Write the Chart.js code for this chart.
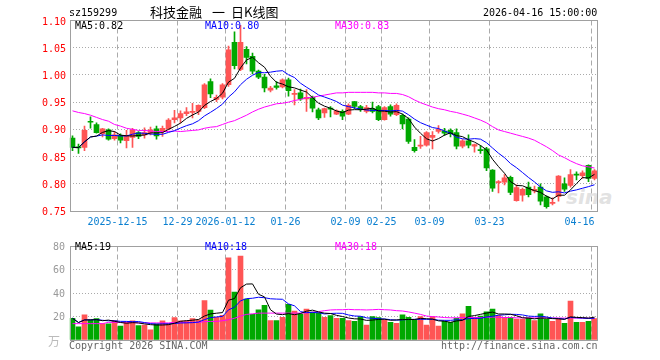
<!DOCTYPE html>
<html><head><meta charset="utf-8">
<script src="https://cdn.jsdelivr.net/npm/chart.js@4.4.1/dist/chart.umd.min.js"></script>
<style>
html,body{margin:0;padding:0;background:#fff;}
#wrap{position:relative;width:660px;height:360px;overflow:hidden;font-family:"DejaVu Sans Mono",monospace;font-size:10px;}
canvas{position:absolute;left:0;}
.t{position:absolute;white-space:pre;line-height:12px;height:12px;}
.cn{font-family:"Noto Sans CJK SC",sans-serif;font-size:13px;line-height:16px;}
</style></head><body>
<div id="wrap">
<div class="t" style="left:566px;top:186px;font:italic bold 20px 'DejaVu Sans',sans-serif;line-height:22px;height:22px;color:rgba(190,190,190,0.45)">sina</div>
<canvas id="pc" width="660" height="236" style="top:0"></canvas>
<canvas id="vc" width="660" height="124" style="top:236px"></canvas>
<div class="t" style="left:69px;top:7px;color:#000">sz159299</div>
<div class="t cn" style="left:150px;top:4px;color:#000">科技金融</div>
<div class="t cn" style="left:212px;top:4px;color:#000">一</div>
<div class="t cn" style="left:231px;top:4px;color:#000">日K线图</div>
<div class="t" style="left:483px;top:7px;color:#000">2026-04-16 15:00:00</div>
<div class="t" style="left:75px;top:20px;color:#000">MA5:0.82</div>
<div class="t" style="left:205px;top:20px;color:#0000ff">MA10:0.80</div>
<div class="t" style="left:335px;top:20px;color:#ff00ff">MA30:0.83</div>
<div class="t" style="left:75px;top:241px;color:#000">MA5:19</div>
<div class="t" style="left:205px;top:241px;color:#0000ff">MA10:18</div>
<div class="t" style="left:335px;top:241px;color:#ff00ff">MA30:18</div>
<div class="t cn" style="left:48px;top:333px;font-size:12px;color:#bbb">万</div>
<div class="t" style="left:69px;top:340px;color:#666">Copyright 2026 SINA.COM</div>
<div class="t" style="left:441px;top:340px;color:#666">http://finance.sina.com.cn</div>
</div>
<script>
const dates = ['2025-12-03','2025-12-04','2025-12-05','2025-12-08','2025-12-09','2025-12-10','2025-12-11','2025-12-12','2025-12-15','2025-12-16',
'2025-12-17','2025-12-18','2025-12-19','2025-12-22','2025-12-23','2025-12-24','2025-12-25','2025-12-26','2025-12-29','2025-12-30',
'2025-12-31','2026-01-05','2026-01-06','2026-01-07','2026-01-08','2026-01-09','2026-01-12','2026-01-13','2026-01-14','2026-01-15',
'2026-01-16','2026-01-19','2026-01-20','2026-01-21','2026-01-22','2026-01-23','2026-01-26','2026-01-27','2026-01-28','2026-01-29',
'2026-01-30','2026-02-02','2026-02-03','2026-02-04','2026-02-05','2026-02-06','2026-02-09','2026-02-10','2026-02-11','2026-02-12',
'2026-02-13','2026-02-24','2026-02-25','2026-02-26','2026-02-27','2026-03-02','2026-03-03','2026-03-04','2026-03-05','2026-03-06',
'2026-03-09','2026-03-10','2026-03-11','2026-03-12','2026-03-13','2026-03-16','2026-03-17','2026-03-18','2026-03-19','2026-03-20',
'2026-03-23','2026-03-24','2026-03-25','2026-03-26','2026-03-27','2026-03-30','2026-03-31','2026-04-01','2026-04-02','2026-04-03',
'2026-04-07','2026-04-08','2026-04-09','2026-04-10','2026-04-13','2026-04-14','2026-04-15','2026-04-16'];

const open = [0.884,0.868,0.867,0.914,0.909,0.892,0.899,0.883,0.889,0.879,
0.885,0.894,0.890,0.894,0.901,0.896,0.901,0.918,0.921,0.929,
0.931,0.933,0.940,0.988,0.955,0.959,0.982,1.060,1.010,1.047,
1.034,1.007,0.996,0.972,0.980,0.978,0.991,0.964,0.967,0.956,
0.959,0.936,0.930,0.939,0.928,0.933,0.928,0.951,0.942,0.933,
0.938,0.942,0.918,0.942,0.927,0.926,0.919,0.867,0.869,0.871,
0.885,0.896,0.897,0.898,0.894,0.869,0.879,0.869,0.862,0.864,
0.825,0.802,0.803,0.812,0.769,0.779,0.794,0.787,0.794,0.776,
0.764,0.777,0.800,0.797,0.817,0.815,0.834,0.810];

const high = [0.888,0.873,0.906,0.923,0.912,0.902,0.901,0.896,0.892,0.898,
0.902,0.896,0.903,0.904,0.906,0.906,0.920,0.935,0.934,0.940,
0.948,0.945,0.984,0.993,0.963,0.984,1.053,1.079,1.091,1.052,
1.040,1.009,1.001,0.979,0.988,0.993,0.994,0.973,0.974,0.973,
0.961,0.939,0.939,0.942,0.936,0.936,0.947,0.951,0.944,0.944,
0.950,0.944,0.942,0.945,0.947,0.928,0.921,0.881,0.887,0.896,
0.896,0.907,0.902,0.901,0.901,0.881,0.890,0.873,0.870,0.867,
0.826,0.806,0.817,0.814,0.798,0.792,0.803,0.796,0.800,0.778,
0.774,0.815,0.811,0.826,0.822,0.824,0.835,0.826];

const low = [0.861,0.856,0.861,0.902,0.893,0.886,0.880,0.880,0.875,0.866,
0.867,0.883,0.884,0.890,0.882,0.887,0.899,0.912,0.912,0.925,
0.921,0.927,0.938,0.958,0.951,0.956,0.979,1.011,1.008,1.020,
1.002,0.993,0.969,0.969,0.974,0.976,0.961,0.945,0.953,0.933,
0.932,0.918,0.922,0.923,0.927,0.918,0.927,0.938,0.933,0.930,
0.930,0.916,0.917,0.924,0.925,0.901,0.874,0.858,0.865,0.869,
0.864,0.893,0.889,0.886,0.864,0.866,0.866,0.858,0.856,0.824,
0.786,0.783,0.798,0.780,0.768,0.768,0.776,0.783,0.761,0.755,
0.761,0.768,0.786,0.794,0.807,0.810,0.804,0.807];

const close = [0.867,0.866,0.898,0.913,0.894,0.901,0.882,0.890,0.880,0.888,
0.899,0.887,0.894,0.899,0.888,0.902,0.917,0.921,0.929,0.932,
0.933,0.944,0.982,0.965,0.959,0.982,1.046,1.017,1.060,1.032,
1.007,0.996,0.976,0.976,0.977,0.991,0.971,0.966,0.956,0.959,
0.939,0.921,0.938,0.937,0.934,0.924,0.944,0.942,0.936,0.940,
0.933,0.918,0.940,0.928,0.944,0.910,0.878,0.861,0.871,0.894,
0.889,0.900,0.893,0.892,0.869,0.879,0.871,0.872,0.861,0.829,
0.792,0.804,0.811,0.784,0.793,0.790,0.780,0.790,0.768,0.758,
0.765,0.814,0.790,0.817,0.816,0.820,0.810,0.824];

// volume in 万
const volume = [18.6,11.3,21.6,17.3,18.4,14.0,13.8,16.7,11.9,15.4,
16.5,12.4,12.7,8.6,13.8,16.5,14.0,19.2,16.5,16.5,
18.4,17.3,33.8,25.7,19.4,21.1,70.2,41.0,71.8,35.1,
21.9,25.9,29.7,16.7,16.7,19.4,30.5,24.8,22.1,26.5,
23.8,23.0,19.4,20.8,18.6,18.6,16.7,15.9,20.0,12.7,
20.0,19.2,17.3,15.1,14.3,21.6,19.4,17.3,20.0,12.7,
20.0,11.9,15.9,15.1,18.6,22.4,28.9,19.4,20.5,24.0,
26.5,20.8,19.4,19.4,17.8,17.8,18.9,16.7,22.4,17.6,
15.9,18.1,14.3,33.2,15.1,15.1,15.9,18.4];

// MA30 lines (they depend on days before the first candle)
const ma30 = [0.934,0.931,0.929,0.926,0.922,0.918,0.915,0.909,0.906,0.902,
0.900,0.898,0.898,0.897,0.896,0.896,0.896,0.897,0.896,0.897,
0.898,0.899,0.902,0.904,0.905,0.909,0.913,0.916,0.921,0.926,
0.932,0.937,0.941,0.944,0.947,0.948,0.950,0.953,0.955,0.958,
0.959,0.961,0.963,0.965,0.967,0.967,0.968,0.968,0.968,0.968,
0.968,0.967,0.967,0.966,0.966,0.964,0.960,0.954,0.949,0.945,
0.941,0.938,0.936,0.933,0.931,0.928,0.925,0.921,0.917,0.912,
0.905,0.899,0.896,0.893,0.890,0.887,0.884,0.880,0.874,0.868,
0.861,0.853,0.848,0.842,0.837,0.833,0.831,0.829];

const volMa30 = [14.0,14.0,14.0,14.0,14.0,14.0,15.1,15.1,15.1,15.1,
15.1,14.6,14.6,14.6,14.6,14.6,14.6,15.1,15.1,15.1,
15.1,15.1,15.7,15.9,15.9,16.5,17.3,18.6,20.5,21.9,
22.4,23.0,23.0,23.0,23.0,23.0,23.0,23.0,23.0,23.2,
23.8,24.3,25.1,25.7,25.9,25.9,26.2,25.9,25.9,25.7,
25.9,26.2,25.9,25.7,25.1,24.8,24.0,23.0,21.9,20.5,
20.0,19.7,19.2,19.0,19.0,19.2,19.4,19.2,19.2,19.4,
19.6,19.4,19.2,19.2,19.0,19.0,19.0,18.9,18.9,18.9,
18.8,18.8,18.7,18.9,18.8,18.7,18.7,18.7];

const tickDates  = ['2025-12-15','2025-12-29','2026-01-12','2026-01-26','2026-02-09','2026-02-25','2026-03-09','2026-03-23','2026-04-16'];
const tickLabels = ['2025-12-15','12-29','2026-01-12','01-26','02-09','02-25','03-09','03-23','04-16'];
const priceTickValues = [0.75,0.80,0.85,0.90,0.95,1.00,1.05,1.10];
const volTickValues = [0,20,40,60,80];

const RED = '#ff5555', GREEN = '#00a800', GRID = '#aaaaaa', FRAME = '#a0a0a0', BLUE = '#0a7fd0';
const MONO = {family:'DejaVu Sans Mono', size:10};

function movingAvg(arr, n){
  return arr.map((_, i) => { const s = Math.max(0, i - n + 1); const w = arr.slice(s, i + 1); return w.reduce((a, b) => a + b, 0) / w.length; });
}
const ma5 = movingAvg(close, 5), ma10 = movingAvg(close, 10);
const vma5 = movingAvg(volume, 5), vma10 = movingAvg(volume, 10);
const colors = dates.map((d, i) => close[i] >= open[i] ? RED : GREEN);
const tickIndex = new Map(tickDates.map((d, k) => [dates.indexOf(d), k]));

const framePlugin = {
  id: 'frame',
  afterDraw(chart){
    const a = chart.chartArea, c = chart.ctx;
    c.save(); c.strokeStyle = FRAME; c.lineWidth = 1;
    const t = Math.floor(a.top) + 0.5, b = Math.floor(a.bottom) + 0.5;
    c.strokeRect(70.5, t, 527, b - t);
    c.restore();
  }
};

function xScale(showLabels){
  return {
    type: 'category', offset: true,
    grid: { offset: true, drawTicks: false, lineWidth: 1,
      color: c => tickIndex.has(c.index) ? GRID : 'rgba(0,0,0,0)' },
    border: { display: false, dash: [5, 3] },
    ticks: { display: showLabels, autoSkip: false, maxRotation: 0, minRotation: 0, color: BLUE, font: MONO,
      padding: 5, labelOffset: -3,
      callback: (v, i) => {
        if (!tickIndex.has(i)) return '';
        const k = tickIndex.get(i);
        return k === tickLabels.length - 1 ? tickLabels[k] + '    ' : tickLabels[k];
      } },
    afterFit: s => { s.height = showLabels ? 25 : 20; }
  };
}
const lineDs = (label, data, color) => ({ type: 'line', label, data, borderColor: color, borderWidth: 1, pointRadius: 0, tension: 0, order: 0 });

new Chart(document.getElementById('pc'), {
  data: { labels: dates, datasets: [
    lineDs('MA5', ma5, '#000000'),
    lineDs('MA10', ma10, '#0000ff'),
    lineDs('MA30', ma30, '#ff00ff'),
    { type: 'bar', label: 'wick', data: dates.map((d, i) => [low[i], high[i]]), backgroundColor: colors, barThickness: 1, grouped: false, order: 2 },
    { type: 'bar', label: 'body', data: dates.map((d, i) => [open[i], close[i]]), backgroundColor: colors, barThickness: 5, minBarLength: 1, grouped: false, order: 1 }
  ]},
  options: {
    responsive: false, animation: false, devicePixelRatio: 1,
    layout: { padding: { top: 20.5, right: 62.5, left: 0, bottom: 0 } },
    plugins: { legend: { display: false }, tooltip: { enabled: false } },
    scales: {
      x: xScale(true),
      y: { min: priceTickValues[0], max: priceTickValues[priceTickValues.length - 1],
        afterBuildTicks: s => { s.ticks = priceTickValues.map(v => ({ value: v })); },
        ticks: { color: '#ff0000', font: MONO, padding: 3.5, labelOffset: 1.5, callback: v => Number(v).toFixed(2) },
        grid: { drawTicks: false, lineWidth: 1, color: c => (c.index === 0 || c.index === priceTickValues.length - 1) ? 'rgba(0,0,0,0)' : GRID },
        border: { display: false, dash: [1, 2] },
        afterFit: s => { s.width = 69.5; } }
    }
  },
  plugins: [framePlugin]
});

new Chart(document.getElementById('vc'), {
  data: { labels: dates, datasets: [
    lineDs('MA5', vma5, '#000000'),
    lineDs('MA10', vma10, '#0000ff'),
    lineDs('MA30', volMa30, '#ff00ff'),
    { type: 'bar', label: 'volume', data: volume, backgroundColor: colors, barThickness: 5, grouped: false, order: 1 }
  ]},
  options: {
    responsive: false, animation: false, devicePixelRatio: 1,
    layout: { padding: { top: 4.5, right: 62.5, left: 0, bottom: 0 } },
    plugins: { legend: { display: false }, tooltip: { enabled: false } },
    scales: {
      x: xScale(false),
      y: { min: volTickValues[0], max: volTickValues[volTickValues.length - 1],
        afterBuildTicks: s => { s.ticks = volTickValues.map(v => ({ value: v })); },
        ticks: { color: '#999999', font: MONO, padding: 4.5, labelOffset: 1, callback: v => v === 0 ? '' : String(v) },
        grid: { drawTicks: false, lineWidth: 1, color: c => (c.index === 0 || c.index === volTickValues.length - 1) ? 'rgba(0,0,0,0)' : GRID },
        border: { display: false, dash: [1, 2] },
        afterFit: s => { s.width = 69.5; } }
    }
  },
  plugins: [framePlugin]
});
</script>
</body></html>
